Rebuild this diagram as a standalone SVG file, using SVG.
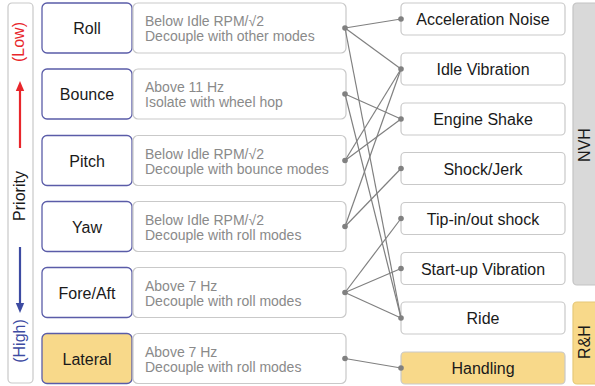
<svg xmlns="http://www.w3.org/2000/svg" width="595" height="386" viewBox="0 0 595 386">
  <style>
    text { font-family: "Liberation Sans", Arial, sans-serif; }
    .mode { fill: #ffffff; stroke: #5a5ca8; stroke-width: 1.3; }
    .mode.hl { fill: #f8d98a; }
    .desc { fill: #ffffff; stroke: #c9c9c9; stroke-width: 1.2; }
    .item { fill: #ffffff; stroke: #c9c9c9; stroke-width: 1.2; }
    .item.hl { fill: #f8d98a; }
    .mt { font-size: 16px; fill: #1a1a1a; text-anchor: middle; }
    .dt { font-size: 14px; fill: #8a8a8a; }
    .it { font-size: 16px; fill: #1a1a1a; text-anchor: middle; }
    .conn line { stroke: #808080; stroke-width: 1.2; }
    .conn circle { fill: #808080; }
  </style>
  <defs>
    <marker id="headRed" markerWidth="8" markerHeight="8" refX="4" refY="8" orient="auto-start-reverse" markerUnits="userSpaceOnUse" viewBox="0 0 8 8">
      <path d="M0,8 L4,0 L8,8 Z" fill="#e8262b"/>
    </marker>
  </defs>

  <!-- priority scale -->
  <g id="priority">
    <rect x="8" y="3" width="25" height="380" rx="4" fill="#ffffff" stroke="#c9c9c9" stroke-width="1.2"/>
    <text transform="translate(24,42) rotate(-90)" font-size="16" fill="#e8262b" text-anchor="middle">(Low)</text>
    <line x1="20" y1="148" x2="20" y2="88" stroke="#e8262b" stroke-width="2.2"/>
    <path d="M15.8,91 L20,81 L24.2,91 Z" fill="#e8262b"/>
    <text transform="translate(25,196) rotate(-90)" font-size="16" fill="#1a1a1a" text-anchor="middle">Priority</text>
    <line x1="20" y1="247" x2="20" y2="306" stroke="#3d4ba2" stroke-width="2.2"/>
    <path d="M15.8,303 L20,313 L24.2,303 Z" fill="#3d4ba2"/>
    <text transform="translate(25,341) rotate(-90)" font-size="16" fill="#3d4ba2" text-anchor="middle">(High)</text>
  </g>

  <!-- vibration modes and targets -->
  <g id="mode-roll">
    <rect class="mode" x="42" y="3" width="90" height="50" rx="5"/>
    <text class="mt" x="87" y="34">Roll</text>
    <rect class="desc" x="133" y="3" width="213" height="50" rx="5"/>
    <text class="dt" x="145" y="26">Below Idle RPM/√2</text>
    <text class="dt" x="145" y="41">Decouple with other modes</text>
  </g>
  <g id="mode-bounce">
    <rect class="mode" x="42" y="69" width="90" height="50" rx="5"/>
    <text class="mt" x="87" y="100">Bounce</text>
    <rect class="desc" x="133" y="69" width="213" height="50" rx="5"/>
    <text class="dt" x="145" y="92">Above 11 Hz</text>
    <text class="dt" x="145" y="107">Isolate with wheel hop</text>
  </g>
  <g id="mode-pitch">
    <rect class="mode" x="42" y="135.5" width="90" height="50" rx="5"/>
    <text class="mt" x="87" y="166.5">Pitch</text>
    <rect class="desc" x="133" y="135.5" width="213" height="50" rx="5"/>
    <text class="dt" x="145" y="158.5">Below Idle RPM/√2</text>
    <text class="dt" x="145" y="173.5">Decouple with bounce modes</text>
  </g>
  <g id="mode-yaw">
    <rect class="mode" x="42" y="201.5" width="90" height="50" rx="5"/>
    <text class="mt" x="87" y="232.5">Yaw</text>
    <rect class="desc" x="133" y="201.5" width="213" height="50" rx="5"/>
    <text class="dt" x="145" y="224.5">Below Idle RPM/√2</text>
    <text class="dt" x="145" y="239.5">Decouple with roll modes</text>
  </g>
  <g id="mode-foreaft">
    <rect class="mode" x="42" y="267.5" width="90" height="50" rx="5"/>
    <text class="mt" x="87" y="298.5">Fore/Aft</text>
    <rect class="desc" x="133" y="267.5" width="213" height="50" rx="5"/>
    <text class="dt" x="145" y="290.5">Above 7 Hz</text>
    <text class="dt" x="145" y="305.5">Decouple with roll modes</text>
  </g>
  <g id="mode-lateral">
    <rect class="mode hl" x="42" y="333.5" width="90" height="50" rx="5"/>
    <text class="mt" x="87" y="364.5">Lateral</text>
    <rect class="desc" x="133" y="333.5" width="213" height="50" rx="5"/>
    <text class="dt" x="145" y="356.5">Above 7 Hz</text>
    <text class="dt" x="145" y="371.5">Decouple with roll modes</text>
  </g>

  <!-- performance attributes -->
  <g id="attr-accel-noise">
    <rect class="item" x="401" y="3" width="164" height="32" rx="4"/>
    <text class="it" x="483" y="25">Acceleration Noise</text>
  </g>
  <g id="attr-idle-vibration">
    <rect class="item" x="401" y="53" width="164" height="32" rx="4"/>
    <text class="it" x="483" y="75">Idle Vibration</text>
  </g>
  <g id="attr-engine-shake">
    <rect class="item" x="401" y="103" width="164" height="32" rx="4"/>
    <text class="it" x="483" y="125">Engine Shake</text>
  </g>
  <g id="attr-shock-jerk">
    <rect class="item" x="401" y="152.5" width="164" height="32" rx="4"/>
    <text class="it" x="483" y="174.5">Shock/Jerk</text>
  </g>
  <g id="attr-tip-in">
    <rect class="item" x="401" y="202.5" width="164" height="32" rx="4"/>
    <text class="it" x="483" y="224.5">Tip-in/out shock</text>
  </g>
  <g id="attr-startup">
    <rect class="item" x="401" y="252.5" width="164" height="32" rx="4"/>
    <text class="it" x="483" y="274.5">Start-up Vibration</text>
  </g>
  <g id="attr-ride">
    <rect class="item" x="401" y="302" width="164" height="32" rx="4"/>
    <text class="it" x="483" y="324">Ride</text>
  </g>
  <g id="attr-handling">
    <rect class="item hl" x="401" y="352" width="164" height="32" rx="4"/>
    <text class="it" x="483" y="374">Handling</text>
  </g>

  <!-- category bands -->
  <g id="cat-nvh">
    <rect x="573" y="3" width="30" height="282" rx="4" fill="#d9d9d9" stroke="#c4c4c4" stroke-width="1.2"/>
    <text transform="translate(590,145) rotate(-90)" font-size="16" fill="#1a1a1a" text-anchor="middle">NVH</text>
  </g>
  <g id="cat-rh">
    <rect x="573" y="302" width="30" height="82" rx="4" fill="#f8d98a" stroke="#e6c878" stroke-width="1.2"/>
    <text transform="translate(590,342) rotate(-90)" font-size="16" fill="#1a1a1a" text-anchor="middle">R&amp;H</text>
  </g>

  <!-- mode-to-attribute links -->
  <g id="connectors" class="conn">
    <line x1="345" y1="28" x2="401" y2="19"/>
    <line x1="345" y1="28" x2="401" y2="69"/>
    <line x1="345" y1="28" x2="401" y2="318"/>
    <line x1="345" y1="94" x2="401" y2="119"/>
    <line x1="345" y1="94" x2="401" y2="318"/>
    <line x1="345" y1="160.5" x2="401" y2="69"/>
    <line x1="345" y1="160.5" x2="401" y2="119"/>
    <line x1="345" y1="226.5" x2="401" y2="69"/>
    <line x1="345" y1="226.5" x2="401" y2="168.5"/>
    <line x1="345" y1="292.5" x2="401" y2="218.5"/>
    <line x1="345" y1="292.5" x2="401" y2="268.5"/>
    <line x1="345" y1="292.5" x2="401" y2="318"/>
    <line x1="345" y1="358.5" x2="401" y2="368"/>
    <circle cx="345" cy="28" r="2.8"/>
    <circle cx="345" cy="94" r="2.8"/>
    <circle cx="345" cy="160.5" r="2.8"/>
    <circle cx="345" cy="226.5" r="2.8"/>
    <circle cx="345" cy="292.5" r="2.8"/>
    <circle cx="345" cy="358.5" r="2.8"/>
    <circle cx="401" cy="19" r="2.8"/>
    <circle cx="401" cy="69" r="2.8"/>
    <circle cx="401" cy="119" r="2.8"/>
    <circle cx="401" cy="168.5" r="2.8"/>
    <circle cx="401" cy="218.5" r="2.8"/>
    <circle cx="401" cy="268.5" r="2.8"/>
    <circle cx="401" cy="318" r="2.8"/>
    <circle cx="401" cy="368" r="2.8"/>
  </g>
</svg>
